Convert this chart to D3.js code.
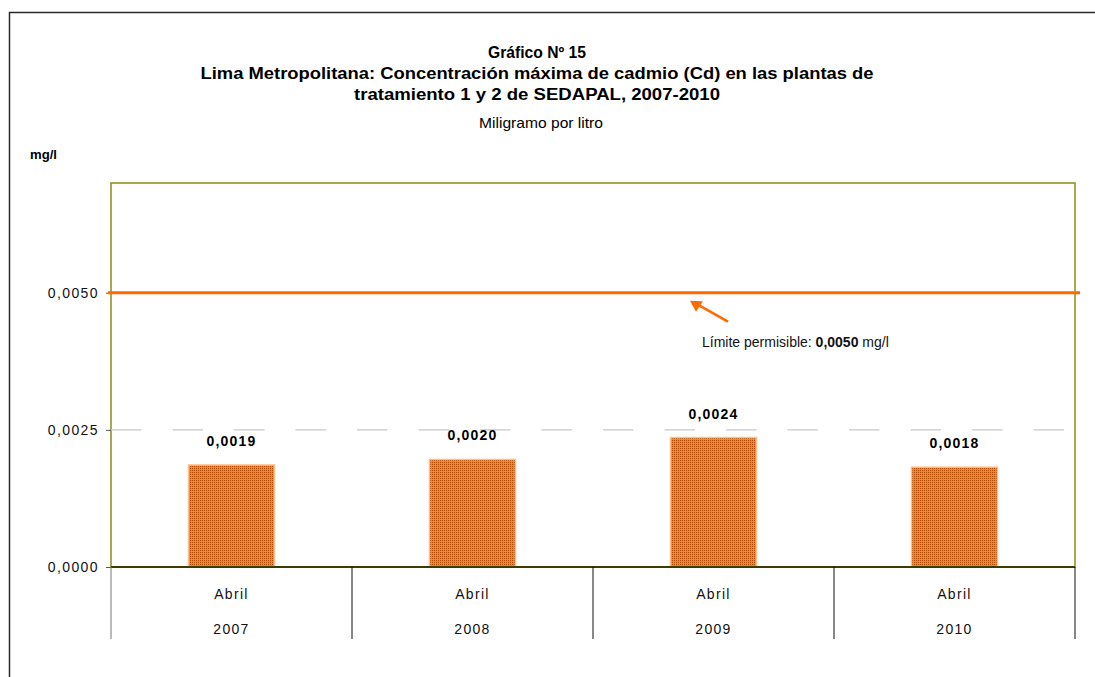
<!DOCTYPE html>
<html>
<head>
<meta charset="utf-8">
<script src="https://cdn.jsdelivr.net/npm/d3@7"></script>
<style>
    html, body { margin: 0; padding: 0; background: #fff; }
    svg { display: block; font-family: "Liberation Sans", Arial, sans-serif; }
</style>
</head>
<body>
<script>
"use strict";

// Data

const years = ['2007', '2008', '2009', '2010'];
const months = ['Abril', 'Abril', 'Abril', 'Abril'];
const maxCadmium = [0.00186, 0.00196, 0.00236, 0.00182];
const yTicks = [0, 0.0025, 0.005];
const limitValue = 0.005;
const titleLines = [
    'Gráfico  Nº 15',
    'Lima Metropolitana: Concentración máxima de cadmio (Cd) en las plantas de',
    'tratamiento 1 y 2 de SEDAPAL, 2007-2010'
];
const subtitle = 'Miligramo por litro';
const unitLabel = 'mg/l';

// Size parameters

const width = 1095;
const height = 677;
const plotLeft = 111;
const plotRight = 1075;
const plotTop = 183;
const plotBottom = 567;
const titleCenter = 537;

const fmt = v => d3.format('.4f')(v).replace('.', ',');

const svg = d3
    .select('body')
    .append('svg')
    .attr('width', width)
    .attr('height', height);

// Bar fill pattern (orange with dark dots)
const pattern = svg.append('defs')
    .append('pattern')
    .attr('id', 'dots')
    .attr('patternUnits', 'userSpaceOnUse')
    .attr('width', 2)
    .attr('height', 2);
pattern.append('rect').attr('width', 2).attr('height', 2).attr('fill', '#ff8a00');
pattern.append('rect').attr('width', 1).attr('height', 1).attr('fill', '#b04800');

// Scales

const x = d3.scaleBand()
    .domain(years)
    .range([plotLeft, plotRight])
    .padding(0);

const y = d3.scaleLinear()
    .domain([0, 0.007])
    .range([plotBottom, plotTop]);

// Outer chart border (top and left only visible)
svg.append('path')
    .attr('d', `M9.5,${height}V12.5H${width}`)
    .attr('fill', 'none')
    .attr('stroke', '#2a2a2a')
    .attr('stroke-width', 1.5);

/**********
 * Titles *
 **********/

const titleWidths = [98, 673, 366];

svg.selectAll('.title')
    .data(titleLines)
    .enter()
    .append('text')
    .classed('title', true)
    .attr('x', titleCenter)
    .attr('y', (d, i) => 58 + i * 21)
    .attr('text-anchor', 'middle')
    .attr('font-size', 16)
    .attr('font-weight', 'bold')
    .attr('textLength', (d, i) => titleWidths[i])
    .attr('lengthAdjust', 'spacingAndGlyphs')
    .attr('fill', '#000')
    .text(d => d);

svg.append('text')
    .attr('x', titleCenter + 4)
    .attr('y', 128)
    .attr('text-anchor', 'middle')
    .attr('font-size', 15)
    .attr('textLength', 124)
    .attr('lengthAdjust', 'spacingAndGlyphs')
    .text(subtitle);

svg.append('text')
    .attr('x', 30)
    .attr('y', 159)
    .attr('font-size', 12)
    .attr('font-weight', 'bold')
    .attr('textLength', 27)
    .attr('lengthAdjust', 'spacingAndGlyphs')
    .text(unitLabel);

/*************
 * Plot area *
 *************/

svg.append('rect')
    .attr('x', plotLeft)
    .attr('y', plotTop)
    .attr('width', plotRight - plotLeft)
    .attr('height', plotBottom - plotTop)
    .attr('fill', '#fff')
    .attr('stroke', '#8c8c14')
    .attr('stroke-width', 1.5);

// Dashed gridline at the middle tick
svg.selectAll('.grid')
    .data(yTicks.filter(t => t > 0 && t < limitValue))
    .enter()
    .append('line')
    .classed('grid', true)
    .attr('x1', plotLeft)
    .attr('x2', plotRight)
    .attr('y1', d => y(d))
    .attr('y2', d => y(d))
    .attr('stroke', '#c8c8c8')
    .attr('stroke-width', 1.2)
    .attr('stroke-dasharray', '30.5 31');

// Y axis
const yAxis = svg.append('g')
    .attr('transform', `translate(${plotLeft},0)`)
    .call(d3.axisLeft(y).tickValues(yTicks).tickFormat(fmt).tickSize(5).tickPadding(7));

yAxis.select('.domain').remove();
yAxis.selectAll('line').attr('stroke', '#555');
yAxis.selectAll('text')
    .attr('font-family', '"Liberation Sans", Arial, sans-serif')
    .attr('font-size', 14)
    .attr('letter-spacing', 1.4)
    .attr('fill', '#111');

/********
 * Bars *
 ********/

const barWidth = x.bandwidth() * 0.357;

svg.selectAll('.bar')
    .data(maxCadmium)
    .enter()
    .append('rect')
    .classed('bar', true)
    .attr('x', (d, i) => x(years[i]) + (x.bandwidth() - barWidth) / 2)
    .attr('y', d => y(d))
    .attr('width', barWidth)
    .attr('height', d => y(0) - y(d))
    .attr('fill', 'url(#dots)')
    .attr('stroke', '#ffbf8a')
    .attr('stroke-width', 1.5);

svg.selectAll('.value')
    .data(maxCadmium)
    .enter()
    .append('text')
    .classed('value', true)
    .attr('x', (d, i) => x(years[i]) + x.bandwidth() / 2)
    .attr('y', d => y(d) - 19)
    .attr('text-anchor', 'middle')
    .attr('font-size', 14)
    .attr('font-weight', 'bold')
    .attr('letter-spacing', 1.2)
    .text(fmt);

// Bottom axis line
svg.append('line')
    .attr('x1', plotLeft)
    .attr('x2', plotRight)
    .attr('y1', y(0))
    .attr('y2', y(0))
    .attr('stroke', '#3c3c00')
    .attr('stroke-width', 2);

/*****************
 * Category axis *
 *****************/

svg.selectAll('.sep')
    .data(years.concat([null]))
    .enter()
    .append('line')
    .classed('sep', true)
    .attr('x1', (d, i) => plotLeft + i * x.bandwidth())
    .attr('x2', (d, i) => plotLeft + i * x.bandwidth())
    .attr('y1', y(0))
    .attr('y2', 639)
    .attr('stroke', (d, i) => i === 0 ? '#777' : '#111')
    .attr('stroke-width', 1);

const catLabels = svg.selectAll('.cat')
    .data(years)
    .enter()
    .append('text')
    .classed('cat', true)
    .attr('text-anchor', 'middle')
    .attr('font-size', 14)
    .attr('letter-spacing', 1.3)
    .attr('fill', '#111');

catLabels
    .append('tspan')
    .attr('x', d => x(d) + x.bandwidth() / 2)
    .attr('y', 599)
    .text((d, i) => months[i]);

catLabels
    .append('tspan')
    .attr('x', d => x(d) + x.bandwidth() / 2)
    .attr('y', 634)
    .text(d => d);

/***************
 * Limit line *
 ***************/

svg.append('line')
    .attr('x1', plotLeft - 3)
    .attr('x2', plotRight + 5)
    .attr('y1', y(limitValue))
    .attr('y2', y(limitValue))
    .attr('stroke', '#ff6a00')
    .attr('stroke-width', 3);

// Annotation arrow pointing at the limit line
const tipX = 690;
const tipY = y(limitValue) + 8;

svg.append('line')
    .attr('x1', 728)
    .attr('y1', tipY + 21)
    .attr('x2', tipX + 6)
    .attr('y2', tipY + 3)
    .attr('stroke', '#ff6a00')
    .attr('stroke-width', 2.5);

svg.append('path')
    .attr('d', `M${tipX},${tipY} L${tipX + 13},${tipY + 0.5} L${tipX + 6},${tipY + 11} Z`)
    .attr('fill', '#ff6a00');

const note = svg.append('text')
    .attr('x', 702)
    .attr('y', 347)
    .attr('font-size', 14)
    .attr('fill', '#111');

note.append('tspan').text('Límite permisible: ');
note.append('tspan').attr('font-weight', 'bold').text(fmt(limitValue));
note.append('tspan').text(' mg/l');
</script>
</body>
</html>
